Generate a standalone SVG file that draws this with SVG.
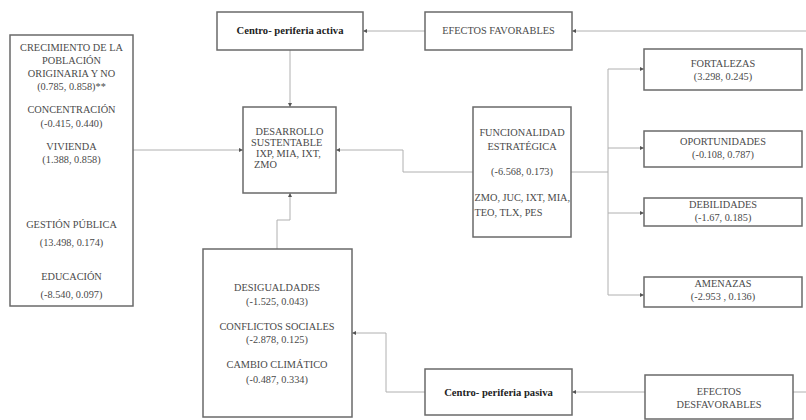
<svg xmlns="http://www.w3.org/2000/svg" width="806" height="420" viewBox="0 0 806 420">
<defs>
<marker id="arr" viewBox="0 0 6 6" refX="6" refY="3" markerWidth="4" markerHeight="4" orient="auto" markerUnits="userSpaceOnUse">
<path d="M0,0 L6,3 L0,6 z" fill="#555"/>
</marker>
<style>
.box{fill:#fff;stroke:#6a6a6a;stroke-width:1.5}
.t{font-family:"Liberation Serif","Times New Roman",serif;font-size:10.3px;fill:#4a4a4a;text-anchor:middle}
.l{text-anchor:start}
.b{font-weight:bold;fill:#222;font-size:10.6px}
.c{fill:none;stroke:#b0b0b0;stroke-width:1}
</style>
</defs>
<rect width="806" height="420" fill="#fff"/>
<g id="connectors">
<path class="c" d="M133,150 H243" marker-end="url(#arr)"/>
<path class="c" d="M290,50 V107" marker-end="url(#arr)"/>
<path class="c" d="M425,31 H363" marker-end="url(#arr)"/>
<path class="c" d="M806,31 H572" marker-end="url(#arr)"/>
<path class="c" d="M473,172 H403 V150 H336" marker-end="url(#arr)"/>
<path class="c" d="M571,172 H608"/>
<path class="c" d="M608,69 V295"/>
<path class="c" d="M608,69 H644" marker-end="url(#arr)"/>
<path class="c" d="M608,148 H644" marker-end="url(#arr)"/>
<path class="c" d="M608,213 H644" marker-end="url(#arr)"/>
<path class="c" d="M608,295 H644" marker-end="url(#arr)"/>
<path class="c" d="M277,249 V220 H290 V193" marker-end="url(#arr)"/>
<path class="c" d="M425,392 H386 V333 H352" marker-end="url(#arr)"/>
<path class="c" d="M645,392 H572" marker-end="url(#arr)"/>
<path class="c" d="M793,392 H806"/>
</g>
<g id="factores">
<rect class="box" x="10" y="35" width="123" height="271"/>
<text class="t" x="71.5" y="51">CRECIMIENTO DE LA</text>
<text class="t" x="71.5" y="64">POBLACIÓN</text>
<text class="t" x="71.5" y="77">ORIGINARIA Y NO</text>
<text class="t" x="71.5" y="90">(0.785, 0.858)**</text>
<text class="t" x="71.5" y="113">CONCENTRACIÓN</text>
<text class="t" x="71.5" y="127">(-0.415, 0.440)</text>
<text class="t" x="71.5" y="150">VIVIENDA</text>
<text class="t" x="71.5" y="163">(1.388, 0.858)</text>
<text class="t" x="71.5" y="228">GESTIÓN PÚBLICA</text>
<text class="t" x="71.5" y="246">(13.498, 0.174)</text>
<text class="t" x="71.5" y="280">EDUCACIÓN</text>
<text class="t" x="71.5" y="298">(-8.540, 0.097)</text>
</g>
<g id="desarrollo">
<rect class="box" x="243" y="107" width="93" height="86"/>
<text class="t" x="289.5" y="135">DESARROLLO</text>
<text class="t l" x="251" y="146">SUSTENTABLE</text>
<text class="t l" x="256" y="157">IXP, MIA, IXT,</text>
<text class="t l" x="254" y="168">ZMO</text>
</g>
<g id="activa">
<rect class="box" x="217" y="12" width="146" height="38"/>
<text class="t b" x="290" y="34">Centro- periferia activa</text>
</g>
<g id="favorables">
<rect class="box" x="425" y="12" width="147" height="38"/>
<text class="t" x="498.5" y="34">EFECTOS FAVORABLES</text>
</g>
<g id="funcionalidad">
<rect class="box" x="473" y="107" width="98" height="130"/>
<text class="t" x="522" y="136">FUNCIONALIDAD</text>
<text class="t" x="522" y="150">ESTRATÉGICA</text>
<text class="t" x="522" y="175">(-6.568, 0.173)</text>
<text class="t l" x="474.5" y="201">ZMO, JUC, IXT, MIA,</text>
<text class="t l" x="474.5" y="216">TEO, TLX, PES</text>
</g>
<g id="fortalezas">
<rect class="box" x="644" y="49" width="158" height="41"/>
<text class="t" x="723" y="67">FORTALEZAS</text>
<text class="t" x="723" y="80">(3.298, 0.245)</text>
</g>
<g id="oportunidades">
<rect class="box" x="644" y="131" width="158" height="36"/>
<text class="t" x="723" y="145">OPORTUNIDADES</text>
<text class="t" x="723" y="158">(-0.108, 0.787)</text>
</g>
<g id="debilidades">
<rect class="box" x="644" y="198" width="158" height="28"/>
<text class="t" x="723" y="208">DEBILIDADES</text>
<text class="t" x="723" y="221">(-1.67, 0.185)</text>
</g>
<g id="amenazas">
<rect class="box" x="644" y="277" width="158" height="30"/>
<text class="t" x="723" y="287">AMENAZAS</text>
<text class="t" x="723" y="300">(-2.953 , 0.136)</text>
</g>
<g id="problemas">
<rect class="box" x="203" y="249" width="149" height="168"/>
<text class="t" x="277" y="291">DESIGUALDADES</text>
<text class="t" x="277" y="305">(-1.525, 0.043)</text>
<text class="t" x="277" y="330">CONFLICTOS SOCIALES</text>
<text class="t" x="277" y="343">(-2.878, 0.125)</text>
<text class="t" x="277" y="368">CAMBIO CLIMÁTICO</text>
<text class="t" x="277" y="383">(-0.487, 0.334)</text>
</g>
<g id="pasiva">
<rect class="box" x="425" y="369" width="147" height="46"/>
<text class="t b" x="498.5" y="396">Centro- periferia pasiva</text>
</g>
<g id="desfavorables">
<rect class="box" x="645" y="375" width="148" height="44"/>
<text class="t" x="719" y="395">EFECTOS</text>
<text class="t" x="719" y="408">DESFAVORABLES</text>
</g>
</svg>
